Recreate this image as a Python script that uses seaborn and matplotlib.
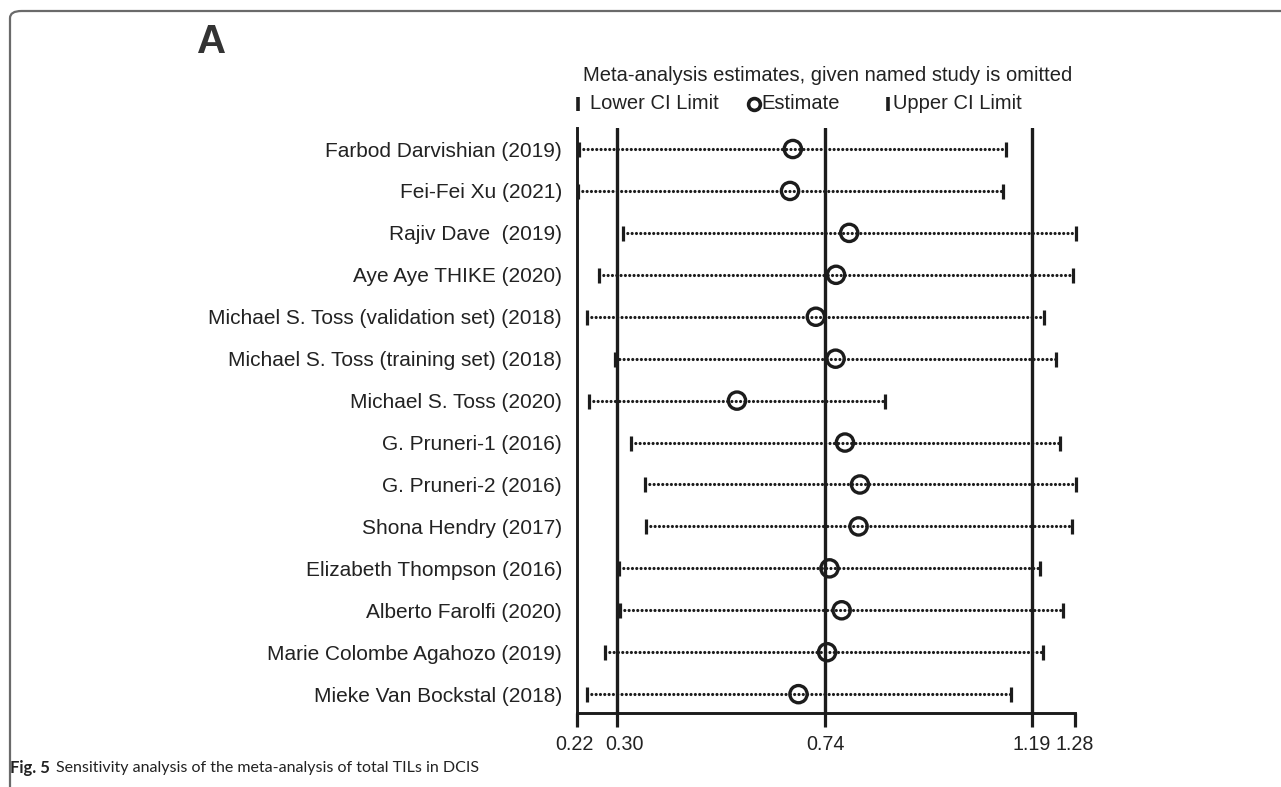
import numpy as np
import pandas as pd
import matplotlib.pyplot as plt
import seaborn as sns
from matplotlib.patches import FancyBboxPatch
from matplotlib.transforms import ScaledTranslation

# --- data ---
studies = [
    "Farbod Darvishian (2019)",
    "Fei-Fei Xu (2021)",
    "Rajiv Dave  (2019)",
    "Aye Aye THIKE (2020)",
    "Michael S. Toss (validation set) (2018)",
    "Michael S. Toss (training set) (2018)",
    "Michael S. Toss (2020)",
    "G. Pruneri-1 (2016)",
    "G. Pruneri-2 (2016)",
    "Shona Hendry (2017)",
    "Elizabeth Thompson (2016)",
    "Alberto Farolfi (2020)",
    "Marie Colombe Agahozo (2019)",
    "Mieke Van Bockstal (2018)",
]
lower = [0.224, 0.222, 0.317, 0.267, 0.241, 0.300, 0.245,
         0.334, 0.364, 0.366, 0.309, 0.311, 0.279, 0.241]
estimate = [0.679, 0.673, 0.799, 0.771, 0.728, 0.770, 0.560,
            0.790, 0.822, 0.819, 0.757, 0.783, 0.752, 0.691]
upper = [1.133, 1.127, 1.282, 1.275, 1.214, 1.239, 0.875,
         1.247, 1.282, 1.273, 1.205, 1.254, 1.211, 1.143]

tick_pos = [0.22, 0.304, 0.748, 1.188, 1.28]
tick_labels = ["0.22", "0.30", "0.74", "1.19", "1.28"]
ref_lines = [0.304, 0.748, 1.188]

df = pd.DataFrame({"study": studies, "lower": lower,
                   "estimate": estimate, "upper": upper})
df["row"] = np.arange(len(df))

INK = "#1c1c1c"
TXT = "#222222"

sns.set_style("white")
plt.rcParams["font.family"] = ["Liberation Sans", "DejaVu Sans"]

fig = plt.figure(figsize=(12.81, 7.87), dpi=100)
ax = fig.add_axes([0.4507, 0.0940, 0.3885, 0.7433])

# reference lines (overall CI + estimate)
for v in ref_lines:
    ax.axvline(v, color=INK, lw=2.4, zorder=1)

# dotted CI lines with caps
for _, r in df.iterrows():
    ax.plot([r["lower"], r["upper"]], [r["row"], r["row"]], color=INK,
            lw=2.3, ls=(0, (0.001, 1.35)), dash_capstyle="round",
            zorder=2, clip_on=False)
ax.plot(df["lower"], df["row"], ls="none", marker="|", ms=10.8,
        mew=2.3, color=INK, zorder=3, clip_on=False)
ax.plot(df["upper"], df["row"], ls="none", marker="|", ms=10.8,
        mew=2.3, color=INK, zorder=3, clip_on=False)

# estimates
sns.scatterplot(data=df, x="estimate", y="row", marker="o", s=154,
                color=INK, linewidth=2.4, ax=ax, zorder=4, legend=False)
pts = ax.collections[-1]
pts.set_facecolor("none")
pts.set_edgecolor(INK)

ax.set_xlim(0.22, 1.28)
ax.set_ylim(13.45, -0.5)
ax.set_xticks(tick_pos)
ax.set_xticklabels(tick_labels, fontsize=14.2, color=TXT)
ax.set_yticks(df["row"])
ax.set_yticklabels(df["study"], fontsize=15, color=TXT)
ax.tick_params(axis="x", length=10, width=2.3, color=INK, pad=6,
               direction="out", bottom=True)
ax.tick_params(axis="y", length=0, pad=11)
ax.set_xlabel("")
ax.set_ylabel("")
# nudge the two crowded left tick labels apart
xt = ax.get_xticklabels()
xt[0].set_transform(xt[0].get_transform() + ScaledTranslation(-3 / 100, 0, fig.dpi_scale_trans))
xt[1].set_transform(xt[1].get_transform() + ScaledTranslation(8 / 100, 0, fig.dpi_scale_trans))
sns.despine(ax=ax, top=True, right=True)
for side in ("left", "bottom"):
    ax.spines[side].set_color(INK)
    ax.spines[side].set_linewidth(2.1)

# legend-like header
fig.text(0.6464, 0.9047, "Meta-analysis estimates, given named study is omitted",
         ha="center", va="center", fontsize=14.5, color=TXT)
ly = 0.8679
fig.lines.append(plt.Line2D([0.4512], [ly], marker="|", ms=10, mew=2.6,
                            color=INK, transform=fig.transFigure))
fig.text(0.4606, ly, "Lower CI Limit", ha="left", va="center",
         fontsize=14.5, color=TXT)
fig.lines.append(plt.Line2D([0.5886], [ly], marker="o", ms=8.5, mew=2.6,
                            mfc="none", color=INK, transform=fig.transFigure))
fig.text(0.5940, ly, "Estimate", ha="left", va="center",
         fontsize=14.5, color=TXT)
fig.lines.append(plt.Line2D([0.6932], [ly], marker="|", ms=10, mew=2.6,
                            color=INK, transform=fig.transFigure))
fig.text(0.6971, ly, "Upper CI Limit", ha="left", va="center",
         fontsize=14.5, color=TXT)

# panel letter
fig.text(0.1655, 0.9466, "A", ha="center", va="center", fontsize=29,
         fontweight="bold", color="#333333")

# frame around the panel
frame = FancyBboxPatch((10 / 1281, -0.2), 1.2, 1.2 - 11 / 787,
                       boxstyle="round,pad=0,rounding_size=0.009",
                       transform=fig.transFigure, fill=False,
                       ec="#6a6a6a", lw=1.6, clip_on=False)
fig.patches.append(frame)

# caption
cap_font = ["Lato", "DejaVu Sans"]
fig.text(0.0078, 0.0241, "Fig. 5", ha="left", va="center", fontsize=12,
         fontweight="bold", family=cap_font, color=TXT)
fig.text(0.0437, 0.0241,
         "Sensitivity analysis of the meta-analysis of total TILs in DCIS",
         ha="left", va="center", fontsize=11.5, family=cap_font, color=TXT)

fig.savefig("out.png", dpi=100)
